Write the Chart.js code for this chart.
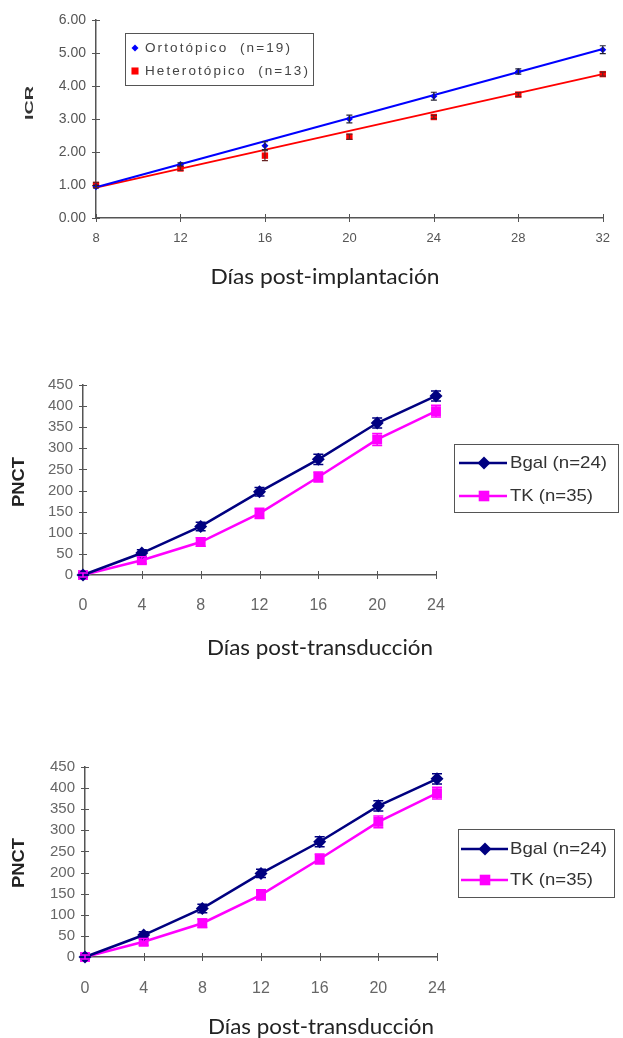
<!DOCTYPE html>
<html>
<head>
<meta charset="utf-8">
<script src="https://cdn.jsdelivr.net/npm/chart.js@4"></script>
<style>
  body { margin: 0; background: #fff; width: 623px; height: 1038px; position: relative; overflow: hidden; }
  canvas { position: absolute; left: 0; }
</style>
</head>
<body>
<canvas id="icr" width="623" height="300" style="top:0px"></canvas>
<canvas id="pnct1" width="623" height="320" style="top:360px"></canvas>
<canvas id="pnct2" width="623" height="298" style="top:740px"></canvas>
<script>
window.addEventListener('load', setup);

// --- ICR vs days post-implantation
const days1 = [8, 12, 16, 20, 24, 28, 32];
const icrTicks = ['0.00', '1.00', '2.00', '3.00', '4.00', '5.00', '6.00'];
const orto = [0.95, 1.62, 2.19, 3.00, 3.69, 4.44, 5.10];
const ortoErr = [0.04, 0.05, 0.12, 0.12, 0.12, 0.08, 0.12];
const hetero = [1.00, 1.50, 1.89, 2.46, 3.06, 3.74, 4.36];
const heteroErr = [0.08, 0.06, 0.15, 0.08, 0.05, 0.06, 0.06];
// trend lines, read at first and last day
const fitDays = [8, 32];
const ortoFit = [0.93, 5.12];
const heteroFit = [0.92, 4.36];

// --- PNCT vs days post-transduction (two copies)
const days2 = [0, 4, 8, 12, 16, 20, 24];
const pnctTicks = ['0', '50', '100', '150', '200', '250', '300', '350', '400', '450'];
const bgal1 = [0, 52, 115, 197, 274, 360, 424];
const bgal1Err = [5, 8, 10, 10, 12, 12, 12];
const tk1 = [0, 35, 78, 146, 232, 321, 388];
const tk1Err = [5, 8, 10, 12, 12, 14, 14];
const bgal2 = [0, 52, 115, 198, 273, 358, 422];
const bgal2Err = [5, 8, 10, 10, 12, 12, 12];
const tk2 = [0, 36, 80, 147, 232, 320, 388];
const tk2Err = [5, 8, 10, 12, 12, 14, 14];

function pts(xs, ys) {
  return xs.map((x, i) => ({ x: x, y: ys[i] }));
}

function drawMarker(ctx, style, x, y, r, color) {
  ctx.fillStyle = color;
  ctx.beginPath();
  if (style === 'rectRot') {
    ctx.moveTo(x, y - r); ctx.lineTo(x + r, y); ctx.lineTo(x, y + r); ctx.lineTo(x - r, y);
  } else {
    const s = r * Math.SQRT1_2;
    ctx.rect(x - s, y - s, 2 * s, 2 * s);
  }
  ctx.closePath();
  ctx.fill();
}

function drawText(ctx, c) {
  ctx.save();
  ctx.font = c.font;
  ctx.letterSpacing = c.spacing || '0px';
  ctx.fillStyle = c.color || '#222';
  ctx.textBaseline = 'middle';
  ctx.textAlign = c.align || 'center';
  ctx.translate(c.x, c.y);
  if (c.rot) ctx.rotate(c.rot);
  if (c.w) ctx.scale(c.w / ctx.measureText(c.text).width, 1);
  ctx.fillText(c.text, 0, 0);
  ctx.restore();
}

// ticks that cross the axis lines
const crossTicks = {
  id: 'crossTicks',
  beforeDatasetsDraw(chart, args, o) {
    const ctx = chart.ctx, area = chart.chartArea;
    const xs = chart.scales.x, ys = chart.scales.y;
    ctx.save();
    ctx.strokeStyle = o.color;
    ctx.lineWidth = 1;
    ctx.beginPath();
    xs.ticks.forEach(t => {
      const px = Math.round(xs.getPixelForValue(t.value)) + 0.5;
      ctx.moveTo(px, area.bottom - o.len); ctx.lineTo(px, area.bottom + o.len);
    });
    ys.ticks.forEach(t => {
      const py = Math.round(ys.getPixelForValue(t.value)) + 0.5;
      ctx.moveTo(area.left - o.len, py); ctx.lineTo(area.left + o.len, py);
    });
    ctx.stroke();
    ctx.restore();
  }
};

const errorBars = {
  id: 'errorBars',
  afterDatasetsDraw(chart, args, o) {
    const ctx = chart.ctx, ys = chart.scales.y;
    chart.data.datasets.forEach((ds, i) => {
      if (!ds.errors) return;
      const meta = chart.getDatasetMeta(i);
      ctx.save();
      ctx.strokeStyle = ds.errColor || ds.borderColor;
      ctx.lineWidth = o.width;
      ctx.beginPath();
      meta.data.forEach((pt, j) => {
        const v = ds.data[j].y;
        const top = ys.getPixelForValue(v + ds.errors[j]);
        const bot = ys.getPixelForValue(v - ds.errors[j]);
        ctx.moveTo(pt.x, top); ctx.lineTo(pt.x, bot);
        ctx.moveTo(pt.x - o.cap, top); ctx.lineTo(pt.x + o.cap, top);
        ctx.moveTo(pt.x - o.cap, bot); ctx.lineTo(pt.x + o.cap, bot);
      });
      ctx.stroke();
      ctx.restore();
    });
  }
};

const boxLegend = {
  id: 'boxLegend',
  afterDraw(chart, args, o) {
    const ctx = chart.ctx, b = o.box;
    ctx.save();
    ctx.strokeStyle = '#555';
    ctx.lineWidth = 1;
    ctx.strokeRect(b[0] + 0.5, b[1] + 0.5, b[2], b[3]);
    o.items.forEach(it => {
      const ds = chart.data.datasets[it.ds];
      if (it.line) {
        ctx.strokeStyle = ds.borderColor;
        ctx.lineWidth = ds.borderWidth;
        ctx.beginPath(); ctx.moveTo(it.line[0], it.y); ctx.lineTo(it.line[1], it.y); ctx.stroke();
      }
      drawMarker(ctx, ds.pointStyle, it.mx, it.y, it.r, ds.borderColor);
      drawText(ctx, { text: ds.label, x: it.tx, y: it.y, w: it.tw, font: o.font, color: o.color, spacing: o.spacing, align: 'left' });
    });
    ctx.restore();
  }
};

const captions = {
  id: 'captions',
  afterDraw(chart, args, o) {
    o.list.forEach(c => drawText(chart.ctx, c));
  }
};

function axisStyle(color) {
  return { grid: { display: false, drawTicks: false }, border: { color: color, width: 1.5 } };
}

function makeIcr() {
  const ax = axisStyle('#555');
  new Chart(document.getElementById('icr'), {
    type: 'line',
    data: {
      datasets: [
        { label: 'Ortotópico  (n=19)', data: pts(days1, orto), errors: ortoErr, errColor: '#223',
          showLine: false, pointStyle: 'rectRot', pointRadius: 3.5, pointBorderWidth: 0,
          pointBackgroundColor: '#0000ff', borderColor: '#0000ff', borderWidth: 2, clip: false },
        { label: 'Heterotópico  (n=13)', data: pts(days1, hetero), errors: heteroErr, errColor: '#622',
          showLine: false, pointStyle: 'rect', pointRadius: 4.5, pointBorderWidth: 0,
          pointBackgroundColor: '#ff0000', borderColor: '#ff0000', borderWidth: 2, clip: false },
        { label: 'orto fit', data: pts(fitDays, ortoFit), borderColor: '#0000ff', borderWidth: 2, pointRadius: 0, clip: false },
        { label: 'hetero fit', data: pts(fitDays, heteroFit), borderColor: '#ff0000', borderWidth: 2, pointRadius: 0, clip: false }
      ]
    },
    options: {
      responsive: false,
      animation: false,
      layout: { padding: { top: 20, right: 11, left: 0, bottom: 0 } },
      scales: {
        x: { type: 'linear', min: 8, max: 32, ...ax,
          ticks: { stepSize: 4, padding: 13, color: '#555', font: { family: 'Liberation Sans', size: 13 } },
          afterFit: s => { s.height = 82; } },
        y: { min: 0, max: 6, ...ax,
          ticks: { stepSize: 1, padding: 10, color: '#555', font: { family: 'Liberation Sans', size: 14 },
            callback: (v, i) => icrTicks[i] },
          afterFit: s => { s.width = 96; } }
      },
      plugins: {
        legend: { display: false },
        tooltip: { enabled: false },
        crossTicks: { len: 4, color: '#555' },
        errorBars: { cap: 3, width: 1.2 },
        boxLegend: {
          box: [125, 33, 188, 52], font: '13px Liberation Sans', color: '#444', spacing: '2px',
          items: [
            { ds: 0, y: 48, mx: 135, r: 3.5, tx: 145, tw: 147 },
            { ds: 1, y: 71, mx: 135, r: 5, tx: 145, tw: 165 }
          ]
        },
        captions: {
          list: [
            { text: 'Días post-implantación', x: 325, y: 277, w: 229, font: '21px Lato', color: '#222' },
            { text: 'ICR', x: 30, y: 103, w: 34, rot: -Math.PI / 2, font: 'bold 11px Liberation Sans', color: '#333' }
          ]
        }
      }
    },
    plugins: [crossTicks, errorBars, boxLegend, captions]
  });
}

function makePnct(id, bgal, bgalErr, tk, tkErr, g) {
  const ax = axisStyle('#555');
  new Chart(document.getElementById(id), {
    type: 'line',
    data: {
      datasets: [
        { label: 'Bgal (n=24)', data: pts(days2, bgal), errors: bgalErr,
          borderColor: '#000080', borderWidth: 2.5, pointStyle: 'rectRot', pointRadius: 6.5,
          pointBackgroundColor: '#000080', pointBorderWidth: 0, clip: false },
        { label: 'TK (n=35)', data: pts(days2, tk), errors: tkErr,
          borderColor: '#ff00ff', borderWidth: 2.5, pointStyle: 'rect', pointRadius: 7,
          pointBackgroundColor: '#ff00ff', pointBorderWidth: 0, clip: false }
      ]
    },
    options: {
      responsive: false,
      animation: false,
      layout: { padding: { top: g.top, right: g.right, left: 0, bottom: 0 } },
      scales: {
        x: { type: 'linear', min: 0, max: 24, ...ax,
          ticks: { stepSize: 4, padding: g.xPad, color: '#666', font: { family: 'Liberation Sans', size: 16 } },
          afterFit: s => { s.height = g.xHeight; } },
        y: { min: 0, max: 450, ...ax,
          ticks: { stepSize: 50, padding: 10, color: '#666', font: { family: 'Liberation Sans', size: 15 },
            callback: (v, i) => pnctTicks[i] },
          afterFit: s => { s.width = g.yWidth; } }
      },
      plugins: {
        legend: { display: false },
        tooltip: { enabled: false },
        crossTicks: { len: 4, color: '#555' },
        errorBars: { cap: 5, width: 1.5 },
        boxLegend: {
          box: g.box, font: '17px Liberation Sans', color: '#333',
          items: [
            { ds: 0, y: g.rows[0], line: g.line, mx: g.mx, r: 6.5, tx: g.tx, tw: 97 },
            { ds: 1, y: g.rows[1], line: g.line, mx: g.mx, r: 7.5, tx: g.tx, tw: 83 }
          ]
        },
        captions: {
          list: [
            { text: 'Días post-transducción', x: g.titleX, y: g.titleY, w: 226, font: '21px Lato', color: '#222' },
            { text: 'PNCT', x: 20, y: g.pnctY, w: 50, rot: -Math.PI / 2, font: 'bold 16px Liberation Sans', color: '#222' }
          ]
        }
      }
    },
    plugins: [crossTicks, errorBars, boxLegend, captions]
  });
}

function setup() {
  makeIcr();
  makePnct('pnct1', bgal1, bgal1Err, tk1, tk1Err, {
    top: 25, right: 187, yWidth: 83, xHeight: 105, xPad: 21,
    box: [454, 84, 164, 68], rows: [103, 136], line: [459, 507], mx: 484, tx: 510,
    titleX: 320, titleY: 288, pnctY: 122
  });
  makePnct('pnct2', bgal2, bgal2Err, tk2, tk2Err, {
    top: 27, right: 186, yWidth: 85, xHeight: 81, xPad: 22,
    box: [458, 89, 156, 68], rows: [109, 140], line: [461, 508], mx: 485, tx: 510,
    titleX: 321, titleY: 287, pnctY: 123
  });
}
</script>
</body>
</html>
